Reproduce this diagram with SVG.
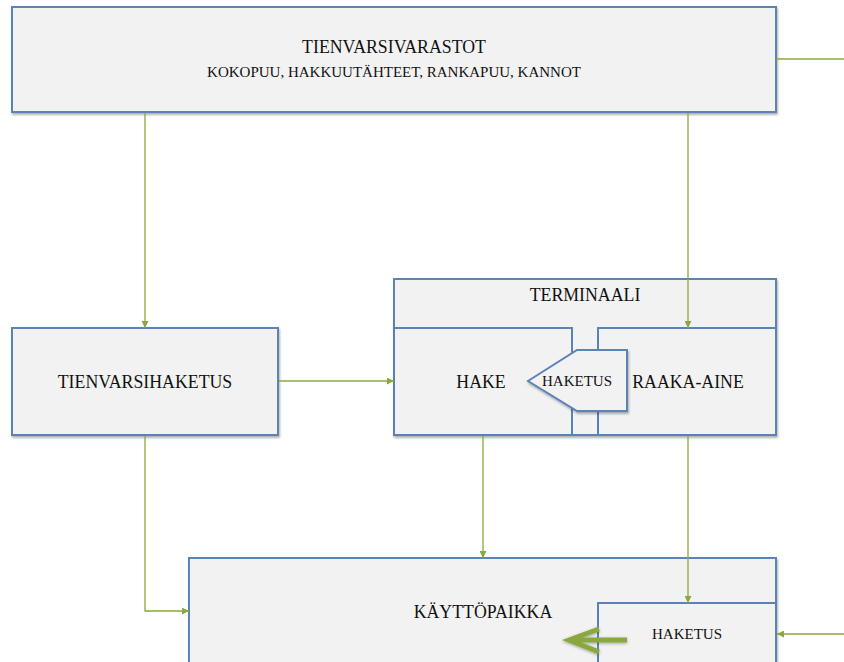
<svg xmlns="http://www.w3.org/2000/svg" width="844" height="662" viewBox="0 0 844 662">
  <style>
    .box { fill: #f2f2f2; stroke: #5b82b6; stroke-width: 2; }
    .shadow { filter: url(#sh); }
    .txt { fill: #111; text-anchor: middle; dominant-baseline: central; }
    .lg { font-size: 17.8px; }
    .sm { font-size: 15px; }
    .conn { fill: none; stroke: #8aa83c; stroke-width: 1.3; }
  </style>
  <defs>
    <filter id="sh" x="-5%" y="-5%" width="110%" height="115%">
      <feDropShadow dx="1" dy="2" stdDeviation="1.2" flood-color="#000" flood-opacity="0.3"/>
    </filter>
    <filter id="sh2" x="-20%" y="-40%" width="140%" height="180%">
      <feDropShadow dx="0" dy="1" stdDeviation="1.5" flood-color="#000" flood-opacity="0.35"/>
    </filter>
    <marker id="arr" viewBox="0 0 10 10" refX="10" refY="5" markerWidth="7" markerHeight="7" markerUnits="userSpaceOnUse" orient="auto">
      <path d="M0,0 L10,5 L0,10 Z" fill="#8aa83c"/>
    </marker>
  </defs>

  <g font-family="'Liberation Serif', 'Times New Roman', serif">
  <g id="tienvarsivarastot">
    <rect class="box shadow" x="12" y="7" width="764" height="105"/>
    <text class="txt lg" x="394" y="47">TIENVARSIVARASTOT</text>
    <text class="txt sm" x="394" y="72">KOKOPUU, HAKKUUTÄHTEET, RANKAPUU, KANNOT</text>
  </g>

  <g id="tienvarsihaketus">
    <rect class="box shadow" x="12" y="328" width="266" height="107"/>
    <text class="txt lg" x="145" y="382">TIENVARSIHAKETUS</text>
  </g>

  <g id="terminaali">
    <rect class="box shadow" x="394" y="279" width="382" height="156"/>
    <text class="txt lg" x="585" y="295">TERMINAALI</text>
  </g>

  <g id="hake">
    <rect class="box" x="394" y="328" width="178" height="107"/>
    <text class="txt lg" x="481" y="382">HAKE</text>
  </g>

  <g id="raaka-aine">
    <rect class="box" x="598" y="328" width="178" height="107"/>
    <text class="txt lg" x="688" y="382">RAAKA-AINE</text>
  </g>

  <g id="terminaali-haketus">
    <polygon class="box shadow" points="528,381 577,350 627,350 627,411 577,411"/>
    <text class="txt sm" x="577" y="381">HAKETUS</text>
  </g>

  <g id="kayttopaikka">
    <rect class="box shadow" x="189" y="558" width="587" height="112"/>
    <text class="txt lg" x="483" y="612">KÄYTTÖPAIKKA</text>
  </g>

  <g id="kayttopaikka-haketus">
    <rect class="box" x="598" y="603" width="178" height="67"/>
    <text class="txt sm" x="687" y="634">HAKETUS</text>
  </g>
  </g>

  <g id="connectors">
    <path class="conn" d="M776,59 H844"/>
    <path class="conn" d="M145,113 V328" marker-end="url(#arr)"/>
    <path class="conn" d="M688,113 V328" marker-end="url(#arr)"/>
    <path class="conn" d="M279,381 H394" marker-end="url(#arr)"/>
    <path class="conn" d="M145,436 V611 H189" marker-end="url(#arr)"/>
    <path class="conn" d="M483,436 V558" marker-end="url(#arr)"/>
    <path class="conn" d="M688,436 V603" marker-end="url(#arr)"/>
    <path class="conn" d="M844,634 H777" marker-end="url(#arr)"/>
    <!-- thick output arrow out of the on-site chipper -->
    <g filter="url(#sh2)" fill="none" stroke="#8aa83c" stroke-width="5" stroke-linejoin="miter">
      <path d="M627,640 H572"/>
      <path d="M599,629 L569,640 L599,652"/>
    </g>
  </g>
</svg>
